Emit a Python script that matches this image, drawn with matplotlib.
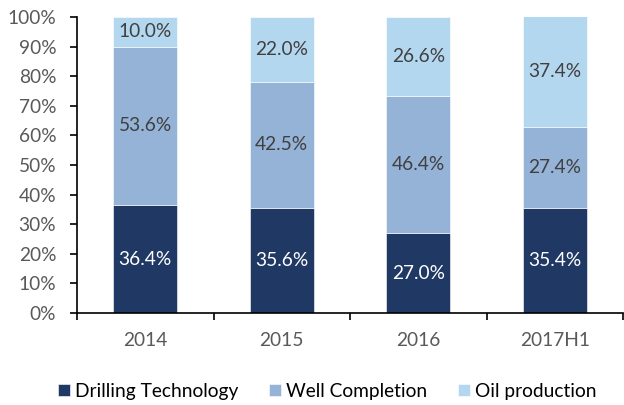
import numpy as np
import matplotlib.pyplot as plt
from matplotlib.ticker import PercentFormatter

# 数据
years = ['2014', '2015', '2016', '2017H1']
drilling = [36.4, 35.6, 27.0, 35.4]
completion = [53.6, 42.5, 46.4, 27.4]
oil = [10.0, 22.0, 26.6, 37.4]

series_names = ['Drilling Technology', 'Well Completion', 'Oil production']
colors = ['#203864', '#95B3D7', '#B4D7F0']
text_colors = ['white', '#404040', '#404040']

plt.rcParams['font.family'] = ['Lato', 'DejaVu Sans']
fs = 13.8

fig = plt.figure(figsize=(6.24, 4.05), dpi=100)
ax = fig.add_axes([0.1234, 0.2272, 0.875, 0.7308])

x = np.arange(len(years))
bottom = np.zeros(len(years))
for vals, name, c, tc in zip([drilling, completion, oil], series_names, colors, text_colors):
    vals = np.array(vals)
    ax.bar(x, vals, 0.469, bottom=bottom, color=c, label=name,
           edgecolor='white', linewidth=0.4)
    for xi, b, v in zip(x, bottom, vals):
        ax.text(xi, b + v / 2, '%.1f%%' % v, ha='center', va='center',
                color=tc, fontsize=fs)
    bottom += vals

ax.set_ylim(0, 100)
ax.set_xlim(-0.5, len(years) - 0.5)
ax.set_yticks(np.arange(0, 101, 10))
ax.yaxis.set_major_formatter(PercentFormatter(decimals=0))

ax.set_xticks(x)
ax.set_xticklabels(years)
ax.set_xticks(np.arange(-0.5, len(years)), minor=True)
ax.tick_params(axis='x', which='major', length=0, pad=13.5, labelsize=fs, labelcolor='#595959')
ax.tick_params(axis='x', which='minor', length=5, width=1.2, direction='out')
ax.tick_params(axis='y', length=5, width=1.2, direction='out', labelsize=fs,
               labelcolor='#595959', pad=10)

for s in ['top', 'right']:
    ax.spines[s].set_visible(False)
for s in ['left', 'bottom']:
    ax.spines[s].set_linewidth(1.2)
ax.spines['bottom'].set_clip_on(False)

ax.legend(loc='center', bbox_to_anchor=(0.458, -0.264), ncol=3, frameon=False,
          fontsize=fs, handlelength=0.63, handleheight=0.63, handletextpad=0.26,
          columnspacing=1.6, labelcolor='black', borderpad=0)

fig.savefig('out.png', dpi=100)
